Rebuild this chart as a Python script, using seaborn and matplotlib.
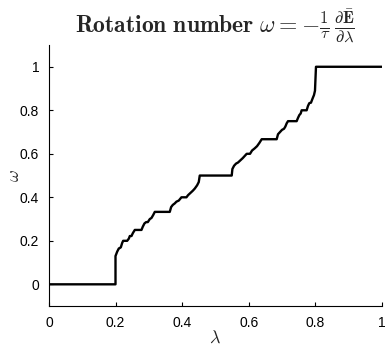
import matplotlib
matplotlib.use("Agg")
import matplotlib.pyplot as plt
import seaborn as sns
import pandas as pd

# Devil's staircase vertices
lam = [0.0, 0.200, 0.200, 0.205, 0.210, 0.213, 0.216, 0.220, 0.223, 0.235,
       0.240, 0.243, 0.248, 0.252, 0.258, 0.278, 0.282, 0.287, 0.292, 0.297,
       0.303, 0.308, 0.313, 0.318, 0.363, 0.367, 0.372, 0.378, 0.383, 0.390,
       0.398, 0.413, 0.418, 0.425, 0.432, 0.438, 0.445, 0.450, 0.453, 0.549,
       0.551, 0.556, 0.562, 0.568, 0.575, 0.582, 0.588, 0.594, 0.604, 0.610,
       0.618, 0.625, 0.632, 0.639, 0.684, 0.688, 0.694, 0.700, 0.706, 0.710,
       0.714, 0.718, 0.744, 0.748, 0.752, 0.756, 0.759, 0.774, 0.778, 0.782,
       0.787, 0.792, 0.796, 0.799, 0.802, 1.0]
omega = [0.0, 0.0, 0.130, 0.150, 0.165, 0.167, 0.170, 0.190, 0.200, 0.200,
         0.210, 0.222, 0.222, 0.235, 0.250, 0.250, 0.265, 0.280, 0.286, 0.286,
         0.300, 0.305, 0.318, 0.333, 0.333, 0.355, 0.365, 0.372, 0.380, 0.385,
         0.400, 0.400, 0.410, 0.420, 0.430, 0.440, 0.455, 0.470, 0.500, 0.500,
         0.530, 0.545, 0.555, 0.560, 0.570, 0.580, 0.590, 0.600, 0.600, 0.615,
         0.625, 0.635, 0.650, 0.667, 0.667, 0.690, 0.700, 0.710, 0.715, 0.725,
         0.740, 0.750, 0.750, 0.765, 0.778, 0.785, 0.800, 0.800, 0.820, 0.833,
         0.835, 0.855, 0.870, 0.890, 1.000, 1.000]

xticks = [0, 0.2, 0.4, 0.6, 0.8, 1]
xticklabels = ["0", "0.2", "0.4", "0.6", "0.8", "1"]
yticks = [0, 0.2, 0.4, 0.6, 0.8, 1]
yticklabels = ["0", "0.2", "0.4", "0.6", "0.8", "1"]

sns.set_style("ticks")
plt.rcParams["font.family"] = ["Liberation Sans", "DejaVu Sans"]
plt.rcParams["mathtext.fontset"] = "cm"

df = pd.DataFrame({"lam": lam, "omega": omega})

fig = plt.figure(figsize=(3.85, 3.49), dpi=100)
ax = fig.add_axes([0.127, 0.123, 0.865, 0.748])
sns.lineplot(data=df, x="lam", y="omega", estimator=None, sort=False,
             color="black", linewidth=1.7, ax=ax)

ax.set_xlim(0, 1)
ax.set_ylim(-0.1, 1.1)
ax.set_xticks(xticks)
ax.set_xticklabels(xticklabels)
ax.set_yticks(yticks)
ax.set_yticklabels(yticklabels)
ax.tick_params(direction="in", length=3, width=0.8, labelsize=10, colors="black", pad=7)
for s in ["top", "right"]:
    ax.spines[s].set_visible(False)
for s in ["left", "bottom"]:
    ax.spines[s].set_linewidth(0.8)
    ax.spines[s].set_color("black")

ax.set_xlabel(r"$\lambda$", fontsize=13, labelpad=0)
ax.set_ylabel(r"$\omega$", fontsize=13, labelpad=-2)
ax.set_title(r"$\mathbf{Rotation\ number}\ \omega = -\frac{\mathbf{1}}{\tau}\,\frac{\partial\bar{\mathbf{E}}}{\partial\lambda}$",
             fontsize=17, pad=6)

fig.savefig("out.png", dpi=100)
